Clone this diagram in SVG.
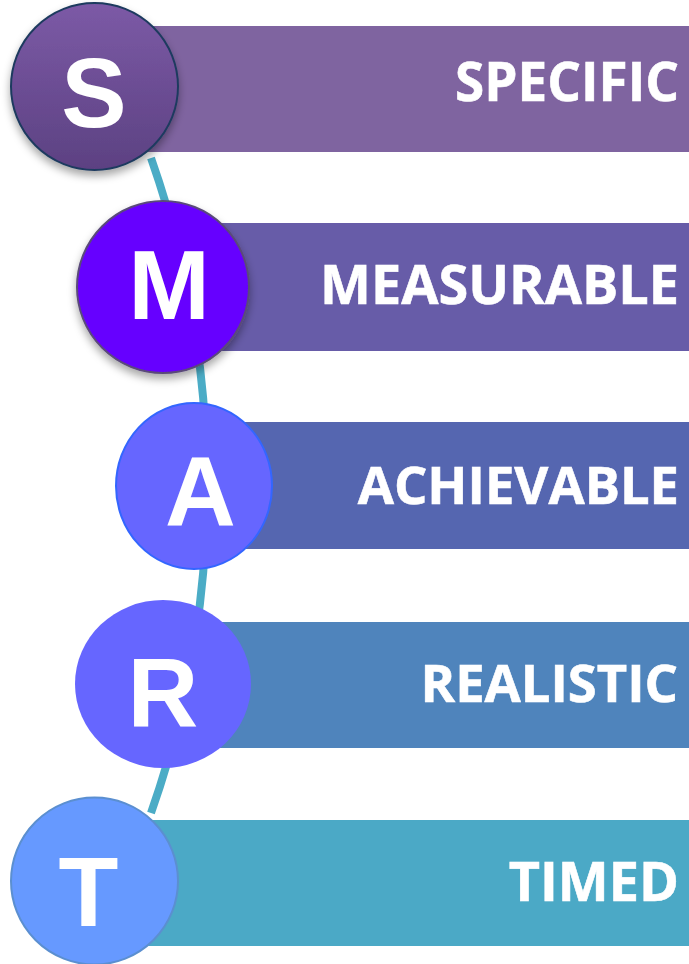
<svg xmlns="http://www.w3.org/2000/svg" width="689" height="964" viewBox="0 0 689 964">
<defs>
<linearGradient id="gS" x1="0" y1="0" x2="0" y2="1">
<stop offset="0" stop-color="#7c5aa6"/>
<stop offset="1" stop-color="#5c4182"/>
</linearGradient>
<filter id="sh" x="-20%" y="-20%" width="140%" height="150%">
<feDropShadow dx="0" dy="5" stdDeviation="4" flood-color="#000" flood-opacity="0.35"/>
</filter>
<style>
.lbl{font-family:"Open Sans","Liberation Sans",sans-serif;font-weight:bold;font-size:54px;fill:#fff;stroke:#fff;stroke-width:0.6;text-anchor:end}
.ltr{font-family:"Liberation Sans",Arial,sans-serif;font-weight:bold;font-size:98px;fill:#fff;text-anchor:middle}
</style>
</defs>
<rect width="689" height="964" fill="#fff"/>
<g id="connectors">
<path d="M151,158 A986,986 0 0 1 151,813" fill="none" stroke="#4bacc6" stroke-width="8"/>
</g>
<g id="bars">
<rect x="95" y="26" width="594" height="126" fill="#7f64a0"/>
<rect x="163" y="223" width="526" height="128" fill="#675ca8"/>
<rect x="194" y="422" width="495" height="127" fill="#5566b0"/>
<rect x="163" y="622" width="526" height="126" fill="#4f84bc"/>
<rect x="95" y="820" width="594" height="126" fill="#4ba9c6"/>
</g>
<g id="node-S">
<circle cx="94.5" cy="86.5" r="83.5" fill="url(#gS)" stroke="#1f3a5f" stroke-width="2" filter="url(#sh)"/>
<text class="ltr" x="94" y="127">S</text>
<text class="lbl" x="679" y="101" style="font-size:53px">SPECIFIC</text>
</g>
<g id="node-M">
<circle cx="163" cy="287" r="86" fill="#6600ff" stroke="#5a4a7a" stroke-width="2" filter="url(#sh)"/>
<text class="ltr" x="169" y="319">M</text>
<text class="lbl" x="679" y="304">MEASURABLE</text>
</g>
<g id="node-A">
<ellipse cx="194" cy="486" rx="78" ry="83" fill="#6666ff" stroke="#3366ff" stroke-width="2"/>
<text class="ltr" x="200.5" y="525">A</text>
<text class="lbl" x="679" y="504" style="font-size:52.5px">ACHIEVABLE</text>
</g>
<g id="node-R">
<ellipse cx="163" cy="684" rx="88" ry="84" fill="#6666ff"/>
<text class="ltr" x="163" y="727">R</text>
<text class="lbl" x="678" y="702" style="font-size:52.5px">REALISTIC</text>
</g>
<g id="node-T">
<circle cx="94.5" cy="881" r="83.5" fill="#6699ff" stroke="#5b8fd0" stroke-width="2"/>
<text class="ltr" x="88.5" y="926">T</text>
<text class="lbl" x="679" y="901">TIMED</text>
</g>
</svg>
